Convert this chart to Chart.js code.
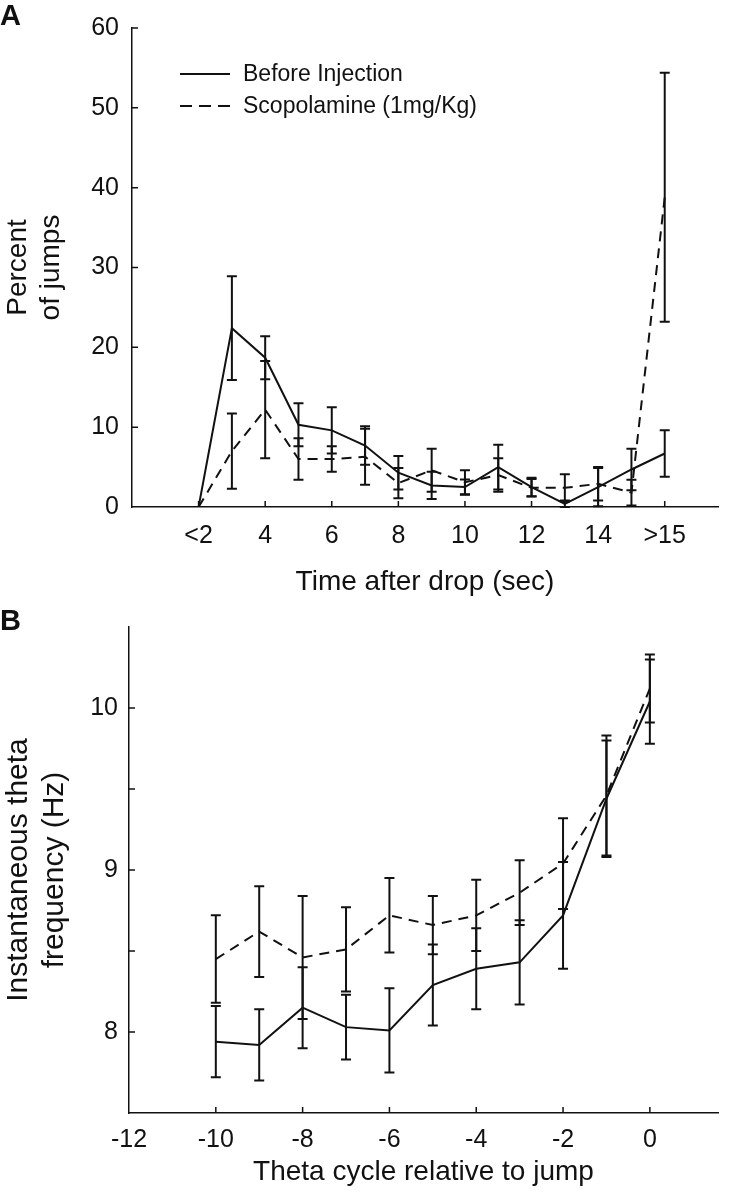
<!DOCTYPE html>
<html>
<head>
<meta charset="utf-8">
<script src="https://cdn.jsdelivr.net/npm/chart.js@4"></script>
<style>
  html, body { margin: 0; padding: 0; background: #fff; }
  body { width: 738px; height: 1199px; position: relative; overflow: hidden; font-family: "Liberation Sans", Arial, sans-serif; }
  .panel { position: absolute; left: 0; width: 738px; }
  #wrapA { top: 0; height: 600px; }
  #wrapB { top: 600px; height: 599px; }
  .tag { position: absolute; left: 0; font-weight: bold; font-size: 29px; line-height: 1; color: #111; z-index: 2; }
</style>
</head>
<body>
<div class="tag" style="top:1px">A</div>
<div class="panel" id="wrapA"><canvas id="chartA"></canvas></div>
<div class="tag" style="top:606px">B</div>
<div class="panel" id="wrapB"><canvas id="chartB"></canvas></div>

<script>
// Panel A - jump timing
const timeX = [2, 3, 4, 5, 6, 7, 8, 9, 10, 11, 12, 13, 14, 15, 16];
const timeTicks = [2, 4, 6, 8, 10, 12, 14, 16];
const timeTickLabels = ["<2", "4", "6", "8", "10", "12", "14", ">15"];
const pctTicks = [0, 10, 20, 30, 40, 50, 60];

const beforePct = [0, 22.4, 18.7, 10.3, 9.6, 7.7, 4.3, 2.7, 2.5, 5.0, 2.5, 0.4, 2.5, 4.7, 6.7];
const beforePctErr = [0, 6.5, 2.7, 2.7, 2.9, 2.4, 2.1, 1.7, 0.95, 2.8, 1.15, 0.4, 2.4, 2.6, 2.9];
const scopPct = [0, 7.0, 12.2, 6.0, 6.0, 6.3, 3.0, 4.6, 3.1, 4.0, 2.4, 2.4, 2.9, 1.8, 38.8];
const scopPctErr = [0, 4.7, 6.1, 2.6, 1.6, 3.5, 1.9, 2.7, 1.5, 2.1, 1.1, 1.7, 2.1, 1.6, 15.6];

// Panel B - theta frequency before the jump
const cycleX = [-10, -9, -8, -7, -6, -5, -4, -3, -2, -1, 0];
const cycleTicks = [-12, -10, -8, -6, -4, -2, 0];
const freqTicks = [8, 8.5, 9, 9.5, 10];

const beforeFreq = [7.94, 7.92, 8.15, 8.03, 8.01, 8.29, 8.39, 8.43, 8.72, 9.44, 10.04];
const beforeFreqErr = [0.22, 0.22, 0.25, 0.20, 0.26, 0.25, 0.25, 0.26, 0.33, 0.36, 0.26];
const scopFreq = [8.45, 8.62, 8.46, 8.51, 8.72, 8.66, 8.72, 8.86, 9.04, 9.46, 10.12];
const scopFreqErr = [0.27, 0.28, 0.38, 0.26, 0.23, 0.18, 0.22, 0.20, 0.28, 0.37, 0.21];

const INK = "#111";
Chart.defaults.font.family = '"Liberation Sans", Arial, sans-serif';
Chart.defaults.color = INK;

// vertical error bars with caps, drawn through the chart's scales
const errorBars = {
  id: "errorBars",
  afterDatasetsDraw(chart, args, opts) {
    const { ctx, scales: { x, y } } = chart;
    ctx.save();
    ctx.strokeStyle = INK;
    ctx.lineWidth = opts.lineWidth;
    opts.sets.forEach(set => {
      set.x.forEach((xv, i) => {
        const e = set.err[i];
        if (!e) return;
        const px = x.getPixelForValue(xv);
        const top = y.getPixelForValue(set.y[i] + e);
        const bot = y.getPixelForValue(Math.max(set.y[i] - e, y.min));
        ctx.beginPath();
        ctx.moveTo(px, top); ctx.lineTo(px, bot);
        ctx.moveTo(px - opts.cap, top); ctx.lineTo(px + opts.cap, top);
        ctx.moveTo(px - opts.cap, bot); ctx.lineTo(px + opts.cap, bot);
        ctx.stroke();
      });
    });
    ctx.restore();
  }
};

// tick marks pointing into the plot
const innerTicks = {
  id: "innerTicks",
  afterDraw(chart, args, opts) {
    const { ctx, scales: { x, y } } = chart;
    ctx.save();
    ctx.strokeStyle = INK;
    ctx.lineWidth = 1.5;
    ctx.beginPath();
    opts.x.forEach(v => {
      const px = x.getPixelForValue(v);
      ctx.moveTo(px, y.bottom); ctx.lineTo(px, y.bottom - opts.len);
    });
    opts.y.forEach(v => {
      const py = y.getPixelForValue(v);
      ctx.moveTo(x.left, py); ctx.lineTo(x.left + opts.len, py);
    });
    ctx.stroke();
    ctx.restore();
  }
};

// line-style key inside the plot area
const lineKey = {
  id: "lineKey",
  afterDraw(chart, args, opts) {
    if (!opts.show) return;
    const { ctx, chartArea } = chart;
    ctx.save();
    ctx.font = opts.font;
    ctx.fillStyle = INK;
    ctx.textBaseline = "middle";
    chart.data.datasets.forEach((ds, i) => {
      const y = chartArea.top + opts.top + i * opts.gap;
      const x0 = chartArea.left + opts.left;
      ctx.strokeStyle = ds.borderColor;
      ctx.lineWidth = ds.borderWidth;
      ctx.setLineDash(ds.borderDash.length ? opts.dash : []);
      ctx.beginPath();
      ctx.moveTo(x0, y); ctx.lineTo(x0 + opts.len, y);
      ctx.stroke();
      ctx.fillText(ds.label, x0 + opts.textOffset, y + 1);
    });
    ctx.restore();
  }
};

function toPoints(xs, ys) {
  return xs.map((x, i) => ({ x: x, y: ys[i] }));
}

function lineSet(label, xs, ys, dashed) {
  return {
    label: label,
    data: toPoints(xs, ys),
    borderColor: INK,
    borderWidth: 2,
    borderDash: dashed ? [10, 7] : [],
    pointRadius: 0,
    tension: 0,
    fill: false
  };
}

function axis(cfg) {
  return {
    type: "linear",
    min: cfg.min,
    max: cfg.max,
    afterBuildTicks: s => { s.ticks = cfg.ticks.map(v => ({ value: v })); },
    afterFit: s => {
      if (cfg.width) s.width = cfg.width;
      if (cfg.height) s.height = cfg.height;
    },
    grid: { display: false, drawTicks: false },
    border: { display: true, color: INK, width: 1.5 },
    ticks: { font: { size: 25 }, padding: cfg.pad, color: INK, callback: cfg.label },
    title: {
      display: true,
      text: cfg.title,
      font: { size: cfg.titleSize || 28, lineHeight: 1.2 },
      color: INK,
      padding: cfg.titlePad
    }
  };
}

new Chart(document.getElementById("chartA"), {
  type: "line",
  data: {
    datasets: [
      lineSet("Before Injection", timeX, beforePct, false),
      lineSet("Scopolamine (1mg/Kg)", timeX, scopPct, true)
    ]
  },
  options: {
    responsive: true,
    maintainAspectRatio: false,
    animation: false,
    events: [],
    layout: { padding: { left: 0, top: 25, right: 20, bottom: 0 } },
    scales: {
      x: axis({
        min: 0, max: 17.6, ticks: timeTicks, height: 93, pad: 14,
        label: (v, i) => timeTickLabels[i],
        title: "Time after drop (sec)", titlePad: { top: 0, bottom: 1 }
      }),
      y: axis({
        min: 0, max: 60, ticks: pctTicks, width: 132, pad: 13,
        label: v => String(v),
        title: ["Percent", "of jumps"], titlePad: { top: 1, bottom: 0 }
      })
    },
    plugins: {
      legend: { display: false },
      tooltip: { enabled: false },
      errorBars: {
        lineWidth: 2, cap: 5,
        sets: [
          { x: timeX, y: beforePct, err: beforePctErr },
          { x: timeX, y: scopPct, err: scopPctErr }
        ]
      },
      innerTicks: { len: 6, x: timeTicks, y: pctTicks.slice(1) },
      lineKey: { show: true, font: '23px "Liberation Sans", Arial, sans-serif', left: 48, top: 46, gap: 32, len: 50, textOffset: 63, dash: [12, 7] }
    }
  },
  plugins: [errorBars, innerTicks, lineKey]
});

new Chart(document.getElementById("chartB"), {
  type: "line",
  data: {
    datasets: [
      lineSet("Before Injection", cycleX, beforeFreq, false),
      lineSet("Scopolamine (1mg/Kg)", cycleX, scopFreq, true)
    ]
  },
  options: {
    responsive: true,
    maintainAspectRatio: false,
    animation: false,
    events: [],
    layout: { padding: { left: 0, top: 27, right: 20, bottom: 0 } },
    scales: {
      x: axis({
        min: -12, max: 1.57, ticks: cycleTicks, height: 86, pad: 12,
        label: v => String(v),
        title: "Theta cycle relative to jump", titlePad: { top: 0, bottom: 10 }
      }),
      y: axis({
        min: 7.5, max: 10.5, ticks: freqTicks, width: 129, pad: 11,
        label: v => (Number.isInteger(v) ? String(v) : ""),
        title: ["Instantaneous theta", "frequency (Hz)"], titleSize: 30, titlePad: { top: 1, bottom: 0 }
      })
    },
    plugins: {
      legend: { display: false },
      tooltip: { enabled: false },
      errorBars: {
        lineWidth: 2, cap: 5,
        sets: [
          { x: cycleX, y: beforeFreq, err: beforeFreqErr },
          { x: cycleX, y: scopFreq, err: scopFreqErr }
        ]
      },
      innerTicks: { len: 6, x: cycleTicks.slice(1), y: freqTicks },
      lineKey: { show: false }
    }
  },
  plugins: [errorBars, innerTicks, lineKey]
});
</script>
</body>
</html>
